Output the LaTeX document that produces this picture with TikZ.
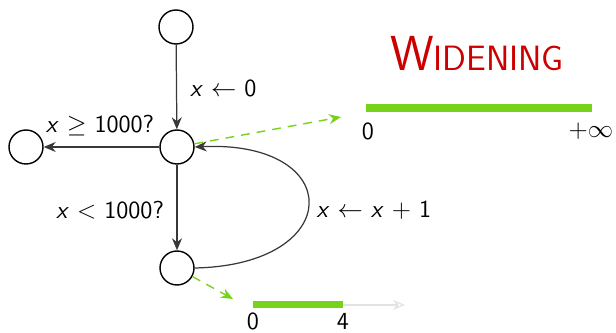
\documentclass[tikz,border=0pt]{standalone}
\usepackage{amsmath}
\usepackage{xcolor}
\usepackage{tikz}
\usetikzlibrary{arrows.meta,positioning}
\definecolor{ink}{HTML}{383838}
\definecolor{lime}{HTML}{77D21A}
\definecolor{title}{HTML}{CC0000}
\definecolor{faint}{HTML}{E2E2E2}
\tikzset{
  state/.style={circle,draw=black,line width=0.8pt,minimum size=0.68cm,inner sep=0pt},
  edgelabel/.style={font=\sffamily\fontsize{14}{16}\selectfont,inner sep=1pt},
  flow/.style={-{Stealth[length=2.4mm,width=2mm]},line width=0.7pt,draw=ink},
  widen/.style={-{Stealth[length=2.4mm,width=2mm]},dashed,dash pattern=on 5pt off 4pt,line width=0.8pt,draw=lime},
  interval/.style={fill=lime,draw=none,inner sep=0pt}
}
\newcommand{\vx}{\textit{x}}

\begin{document}
\begin{tikzpicture}[x=0.02cm,y=-0.02cm]
\useasboundingbox (0,0) rectangle (616,333);
% control flow graph
\node[state] (init) at (176,27) {};
\node[state] (head) at (177,147) {};
\node[state] (exit) at (26,147) {};
\node[state] (body) at (177,268) {};
\draw[flow] (init) -- (head);
\draw[flow] (head) -- (exit);
\draw[flow] (head) -- (body);
\draw[flow] (body.east) .. controls (346,265) and (346,140) .. (head.east);
\node[edgelabel,anchor=west] (lblinit) at (188,88) {\vx{} $\leftarrow$ 0};
\node[edgelabel] (lblexit) at (100,126) {\vx{} $\geq$ 1000?};
\node[edgelabel] (lblbody) at (110,210) {\vx{} $<$ 1000?};
\node[edgelabel] (lblinc) at (374,210) {\vx{} $\leftarrow$ \vx{} $+$ 1};
% widening result
\node[font=\sffamily\color{title}] (title) at (477,54)
  {\fontsize{28}{32}\selectfont W\fontsize{20}{24}\selectfont IDENING};
\node[interval,minimum width=4.52cm,minimum height=0.16cm] (top) at (479,108) {};
\node[edgelabel] (topzero) at (368,131) {0};
\node[edgelabel] (topinf) at (591,131) {$+\infty$};
\coordinate (toptip) at (341,117);
\draw[widen] (head) -- (toptip);
% first iterate
\node[interval,minimum width=1.8cm,minimum height=0.14cm] (low) at (298,305) {};
\coordinate (lowend) at (405,305);
\draw[-{Stealth[length=2.4mm,width=2mm,open]},line width=0.7pt,draw=faint] (low.east) -- (lowend);
\node[edgelabel,inner sep=0pt] (lowzero) at (253,321) {0};
\node[edgelabel,inner sep=0pt] (lowfour) at (343,321) {4};
\coordinate (lowtip) at (233,299);
\draw[widen] (body) -- (lowtip);
\end{tikzpicture}
\end{document}
